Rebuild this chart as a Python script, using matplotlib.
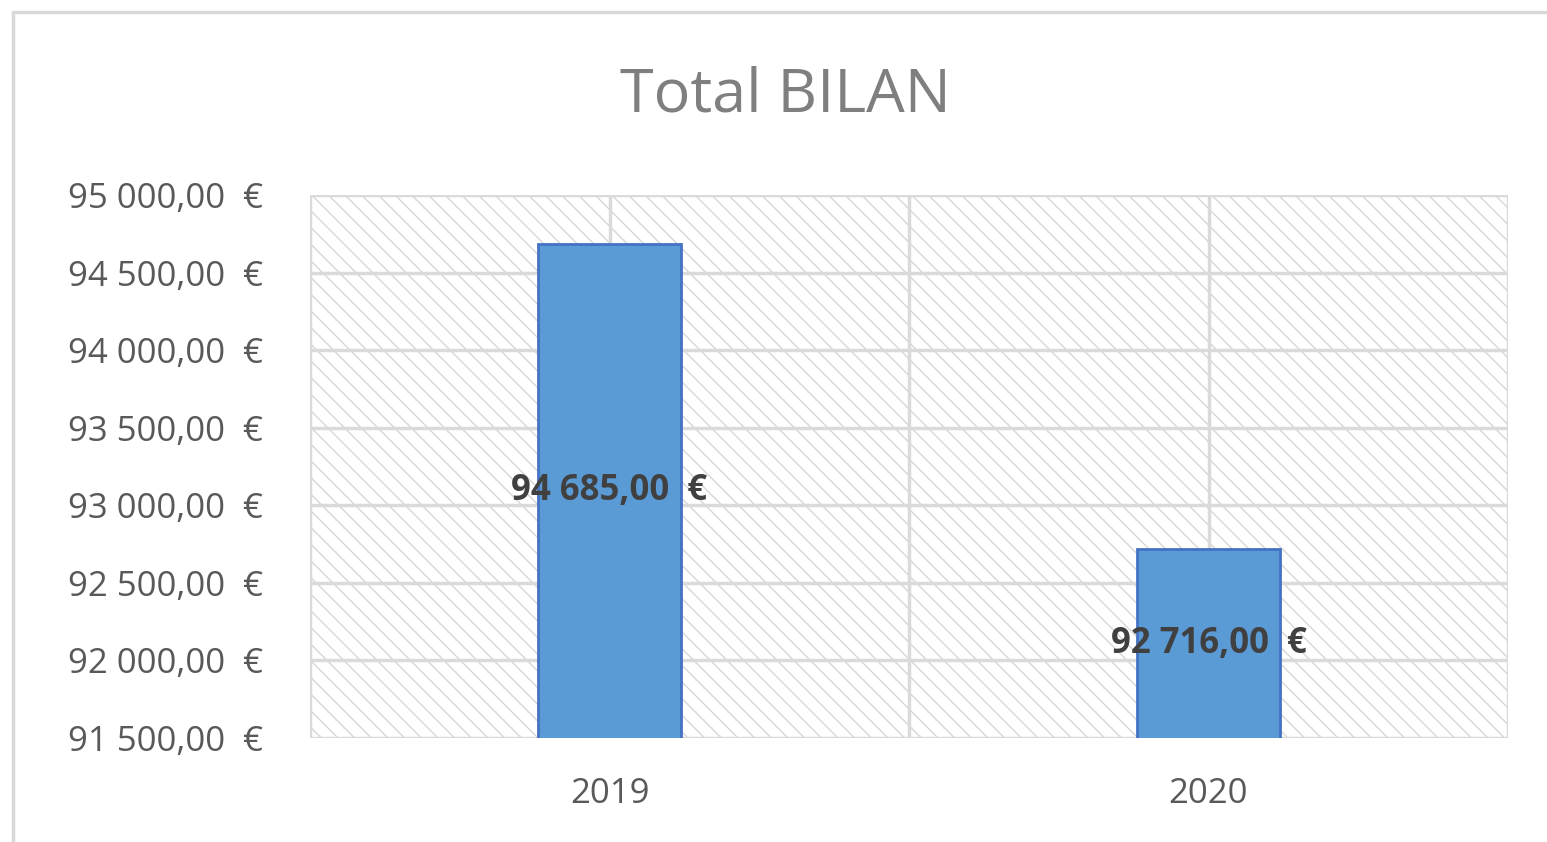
import matplotlib.pyplot as plt
from matplotlib.patches import Rectangle
from matplotlib.ticker import FuncFormatter

plt.rcParams['font.family'] = ['Open Sans', 'DejaVu Sans']
plt.rcParams['hatch.linewidth'] = 1.0

years = ["2019", "2020"]
totals = [94685.00, 92716.00]
y_ticks = [91500, 92000, 92500, 93000, 93500, 94000, 94500, 95000]


def euro(v, pos=None):
    s = "{:,.2f}".format(v).replace(",", " ").replace(".", ",")
    return s + "  €"


fig = plt.figure(figsize=(15.47, 8.42), dpi=100)
ax = fig.add_axes([310/1547, 1 - 738/842, 1198/1547, 543/842])

# outer chart frame (only top and left visible in the crop)
fig.patches.append(Rectangle((13/1547, -0.5), 2, 1.5 - 12/842,
                             transform=fig.transFigure, fill=False,
                             ec="#d9d9d9", lw=2.5, zorder=0))

# hatched plot area
ax.add_patch(Rectangle((0, 0), 1, 1, transform=ax.transAxes, fc="white",
                       ec="#d6d6d6", lw=0, hatch="\\\\", zorder=0))

x = list(range(len(years)))
ax.bar(x, totals, width=0.24, color="#5b9bd5", edgecolor="#4472c4",
       linewidth=2, zorder=3)

ymin, ymax = y_ticks[0], y_ticks[-1]
for xi, v in zip(x, totals):
    ax.text(xi, (ymin + v) / 2, euro(v), ha="center", va="center",
            fontsize=25, fontweight="bold", color="#404040", zorder=4)

ax.set_xlim(-0.5, len(years) - 0.5)
ax.set_ylim(ymin, ymax)
ax.set_yticks(y_ticks)
ax.yaxis.set_major_formatter(FuncFormatter(euro))
ax.set_xticks(x)
ax.set_xticklabels(years)
ax.set_xticks([-0.5, 0.5, 1.5], minor=True)

ax.grid(axis="y", which="major", color="#dadada", lw=2.5, zorder=1)
ax.grid(axis="x", which="both", color="#dadada", lw=2.5, zorder=1)
ax.set_axisbelow(True)
for s in ax.spines.values():
    s.set_visible(False)
ax.tick_params(axis="both", which="both", length=0, labelsize=25,
               labelcolor="#595959")
ax.tick_params(axis="y", pad=34)
ax.tick_params(axis="x", pad=28)

fig.text(785/1547, 1 - 95/842, "Total BILAN", ha="center", va="center",
         fontsize=44, color="#7f7f7f")

fig.savefig("out.png", dpi=100)
